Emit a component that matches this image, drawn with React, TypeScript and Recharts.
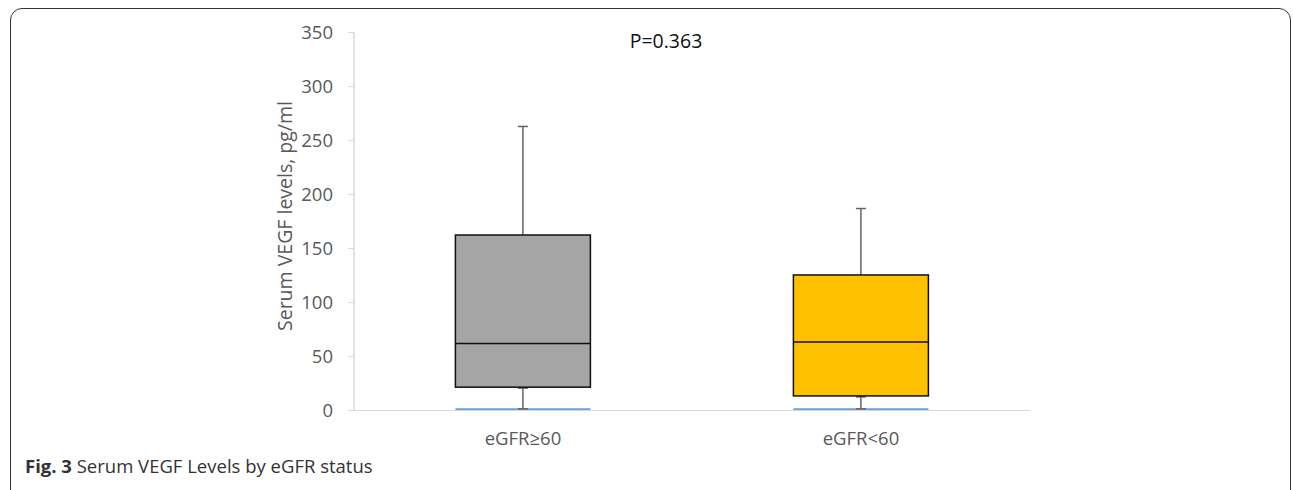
import { ComposedChart, Bar, XAxis, YAxis } from "recharts";

const categories = ["eGFR≥60", "eGFR<60"];
const minVals = [1.5, 1.5];
const q1Vals = [21.6, 13.5];
const medianVals = [62, 63.5];
const q3Vals = [162.5, 125.5];
const maxVals = [263, 187];
const yTicks = [0, 50, 100, 150, 200, 250, 300, 350];
const pValue = "P=0.363";

const BOX_FILLS = ["#a5a5a5", "#ffc000"];
const FONT = "'Open Sans', 'Segoe UI', sans-serif";

const rows = categories.map((name, i) => ({
  name,
  min: minVals[i],
  q1: q1Vals[i],
  median: medianVals[i],
  q3: q3Vals[i],
  max: maxVals[i],
  base: minVals[i],
  gap: q1Vals[i] - minVals[i],
  box: q3Vals[i] - q1Vals[i],
}));

function BoxShape(props: any) {
  const { x, y, width, height, payload, index } = props;
  const ppu = height / (payload.q3 - payload.q1);
  const cx = x + width / 2;
  const medY = y + (payload.q3 - payload.median) * ppu;
  const maxY = y - (payload.max - payload.q3) * ppu;
  const bottom = y + height;
  const minY = bottom + (payload.q1 - payload.min) * ppu;
  const cap = 5;
  const wh = { stroke: "#636363", strokeWidth: 1.5 };
  return (
    <g>
      <line x1={cx} x2={cx} y1={maxY} y2={y} {...wh} />
      <line x1={cx - cap} x2={cx + cap} y1={maxY} y2={maxY} {...wh} />
      <line x1={cx} x2={cx} y1={bottom} y2={minY} {...wh} />
      <line x1={cx - cap} x2={cx + cap} y1={bottom + 1} y2={bottom + 1} {...wh} />
      <line x1={cx - cap} x2={cx + cap} y1={minY} y2={minY} {...wh} />
      <rect x={x} y={y} width={width} height={height} fill={BOX_FILLS[index % BOX_FILLS.length]} stroke="#111" strokeWidth={1.5} />
      <line x1={x} x2={x + width} y1={medY} y2={medY} stroke="#111" strokeWidth={1.5} />
    </g>
  );
}

// thin blue base segment (min value) sitting on the x axis
function BaseShape(props: any) {
  const { x, y, width, height } = props;
  const yy = y + height / 2 - 0.5;
  return <line x1={x} x2={x + width} y1={yy} y2={yy} stroke="#6a9fd6" strokeWidth={2} />;
}

function YLabel() {
  return (
    <text
      x={292}
      y={216}
      transform="rotate(-90 292 216)"
      textAnchor="middle"
      fontSize={19.5}
      fill="#595959"
      fontFamily={FONT}
    >
      Serum VEGF levels, pg/ml
    </text>
  );
}

export default function App() {
  return (
    <div style={{ position: "absolute", left: 0, top: 0, width: 1293, height: 490, overflow: "hidden", background: "#fff" }}>
      <div
        style={{
          position: "absolute",
          left: 10,
          top: 8,
          width: 1279,
          height: 520,
          border: "1.5px solid #333",
          borderRadius: 12,
        }}
      />
      <div style={{ position: "absolute", left: 0, top: 0 }}>
        <ComposedChart
          width={1293}
          height={490}
          data={rows}
          margin={{ top: 32.5, right: 263, bottom: 39.5, left: 294 }}
          barCategoryGap="30%"
        >
          <XAxis
            dataKey="name"
            axisLine={{ stroke: "#d9d9d9", strokeWidth: 1 }}
            tickLine={false}
            tickSize={0}
            tickMargin={21}
            height={40}
            tick={{ fontSize: 18.5, fill: "#595959", fontFamily: FONT }}
          />
          <YAxis
            domain={[0, 350]}
            ticks={yTicks}
            width={60}
            axisLine={{ stroke: "#d9d9d9", strokeWidth: 1.5 }}
            tickLine={{ stroke: "#d9d9d9" }}
            tickSize={6}
            tickMargin={15}
            tick={{ fontSize: 18.5, fill: "#595959", fontFamily: FONT }}
            label={<YLabel />}
          />
          <Bar dataKey="base" stackId="a" shape={<BaseShape />} isAnimationActive={false} />
          <Bar dataKey="gap" stackId="a" fill="transparent" isAnimationActive={false} />
          <Bar dataKey="box" stackId="a" shape={<BoxShape />} isAnimationActive={false} />
          <text x={666} y={48} textAnchor="middle" fontSize={19.5} fill="#111" fontFamily={FONT}>
            {pValue}
          </text>
        </ComposedChart>
      </div>
      <div
        style={{
          position: "absolute",
          left: 25,
          top: 457,
          fontSize: 18.5,
          lineHeight: "18px",
          color: "#333",
          fontFamily: FONT,
          whiteSpace: "nowrap",
        }}
      >
        <b>Fig. 3</b> Serum VEGF Levels by eGFR status
      </div>
    </div>
  );
}
